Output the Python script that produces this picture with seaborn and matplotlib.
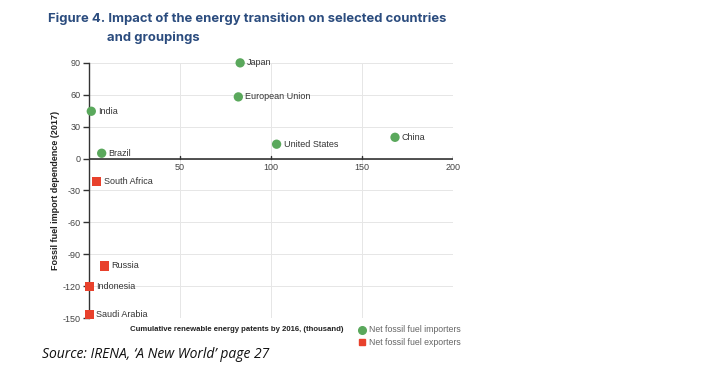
import pandas as pd
import numpy as np
import matplotlib
matplotlib.use("Agg")
from matplotlib import pyplot as plt
from matplotlib.lines import Line2D
import seaborn as sns

# donnees
countries = ["Japan", "European Union", "India", "Brazil", "United States", "China",
             "South Africa", "Russia", "Indonesia", "Saudi Arabia"]
patents = [83, 82, 1.3, 7, 103, 168, 4.2, 8.5, 0.2, 0.2]
dependence = [90, 58, 44.5, 5, 13.5, 20, -21.5, -101, -120, -146.5]
groups = ["Net fossil fuel importers"] * 6 + ["Net fossil fuel exporters"] * 4

df = pd.DataFrame({"country": countries, "patents": patents,
                   "dependence": dependence, "group": groups})

sns.set_theme(style="white")
plt.rcParams['font.family'] = ['Liberation Sans', 'DejaVu Sans']
plt.rcParams['axes.unicode_minus'] = False

fig = plt.figure(figsize=(7.23, 3.72), dpi=100)
ax = fig.add_axes([0.123, 0.145, 0.504, 0.686])

palette = {"Net fossil fuel importers": "#5aa85c", "Net fossil fuel exporters": "#e8412c"}
markers = {"Net fossil fuel importers": "o", "Net fossil fuel exporters": "s"}
sns.scatterplot(data=df, x="patents", y="dependence", hue="group", style="group",
                palette=palette, markers=markers, s=45, edgecolor="none",
                ax=ax, legend=False, zorder=3, clip_on=False)

for c, x, y in zip(countries, patents, dependence):
    ax.annotate(c, (x, y), xytext=(5, 0), textcoords="offset points",
                va="center", ha="left", fontsize=6.5, color="#333333")

ax.set_xlim(0, 200)
ax.set_ylim(-150, 90)
ax.set_xticks([50, 100, 150, 200])
ax.set_yticks(np.arange(-150, 91, 30))
ax.grid(True, color="#e6e6e6", linewidth=0.7)
ax.set_axisbelow(True)

for s in ["top", "right", "bottom"]:
    ax.spines[s].set_visible(False)
ax.spines["left"].set_color("#333333")
ax.spines["left"].set_linewidth(1)
ax.axhline(0, color="#333333", linewidth=1.2, zorder=2)
for xv in [50, 100, 150, 200]:
    ax.plot([xv, xv], [0, 2.5], color="#333333", linewidth=1, zorder=2)
    ax.text(xv, -4, str(xv), ha="center", va="top", fontsize=6.5, color="#444444")
ax.set_xticklabels([])
ax.tick_params(axis="x", length=0)
ax.tick_params(axis="y", length=4, width=1, color="#333333", labelsize=6.5,
               labelcolor="#444444", left=True, pad=2)

ax.set_xlabel("")
ax.set_ylabel("Fossil fuel import dependence (2017)", fontsize=6.5, fontweight="bold",
              color="#222222", labelpad=2)

fig.text(0.327, 0.113, "Cumulative renewable energy patents by 2016, (thousand)",
         ha="center", va="center", fontsize=5.6, fontweight="bold", color="#222222")

# legende
fig.add_artist(Line2D([0.500], [0.113], marker="o", markersize=5.5, color="#5aa85c",
                      linestyle="none", transform=fig.transFigure))
fig.add_artist(Line2D([0.500], [0.080], marker="s", markersize=5, color="#e8412c",
                      linestyle="none", transform=fig.transFigure))
fig.text(0.510, 0.113, "Net fossil fuel importers", ha="left", va="center",
         fontsize=6.3, color="#666666")
fig.text(0.510, 0.080, "Net fossil fuel exporters", ha="left", va="center",
         fontsize=6.3, color="#666666")

fig.text(0.066, 0.950, "Figure 4. Impact of the energy transition on selected countries",
         ha="left", va="center", fontsize=9.4, fontweight="bold", color="#2b4c7e",
         family=["Inter", "DejaVu Sans"])
fig.text(0.148, 0.898, "and groupings", ha="left", va="center", fontsize=9.4,
         fontweight="bold", color="#2b4c7e", family=["Inter", "DejaVu Sans"])

fig.text(0.058, 0.048, "Source: IRENA, \u2018A New World\u2019 page 27", ha="left",
         va="center", fontsize=10, style="italic", color="#111111",
         family=["Open Sans", "DejaVu Sans"])

fig.savefig("out.png", dpi=100)
